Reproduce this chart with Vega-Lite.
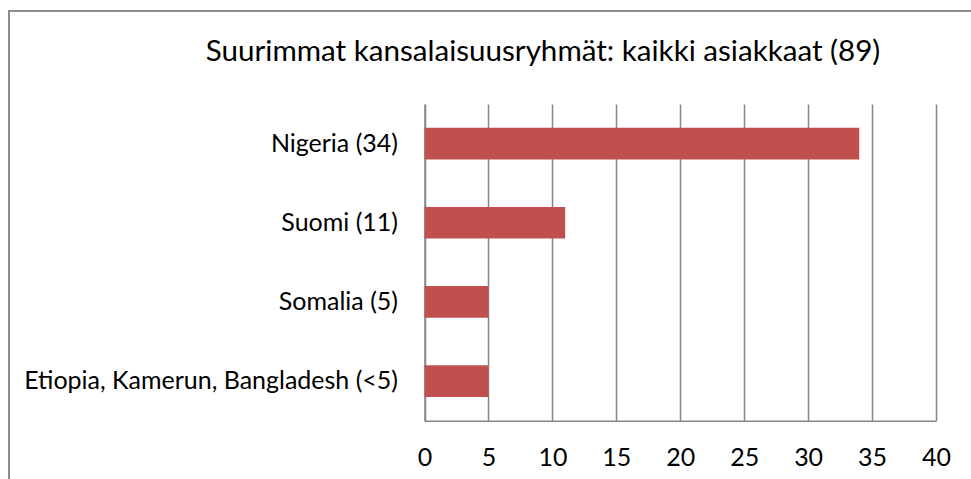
{
  "$schema": "https://vega.github.io/schema/vega-lite/v6.json",
  "autosize": {"type": "none"},
  "padding": {"left": 9, "top": 11, "right": 0, "bottom": 0},
  "width": 980,
  "height": 502.7,
  "background": "white",
  "config": {
    "view": {"stroke": "#8c8c8c", "strokeWidth": 2},
    "font": "Lato"
  },
  "title": {
    "text": "Suurimmat kansalaisuusryhmät: kaikki asiakkaat (89)",
    "anchor": "middle",
    "frame": "group",
    "orient": "top",
    "offset": 0,
    "dx": 44,
    "dy": 80,
    "baseline": "alphabetic",
    "font": "Lato",
    "fontSize": 29.6,
    "fontWeight": "normal",
    "color": "#000000"
  },
  "data": {
    "values": [
      {"label": "Nigeria (34)", "count": 34},
      {"label": "Suomi (11)", "count": 11},
      {"label": "Somalia (5)", "count": 5},
      {"label": "Etiopia, Kamerun, Bangladesh (<5)", "count": 5}
    ]
  },
  "mark": {"type": "bar", "color": "#C0504D"},
  "encoding": {
    "y": {
      "field": "label",
      "type": "nominal",
      "sort": null,
      "scale": {"range": [93, 409.7], "paddingInner": 0.6, "paddingOuter": 0.3},
      "axis": {
        "title": null,
        "orient": "left",
        "offset": -415.5,
        "ticks": false,
        "grid": false,
        "domainColor": "#868686",
        "domainWidth": 1.5,
        "labelPadding": 27,
        "labelFont": "Lato",
        "labelFontSize": 25,
        "labelColor": "#000000",
        "labelLimit": 500
      }
    },
    "x": {
      "field": "count",
      "type": "quantitative",
      "scale": {"domain": [0, 40], "range": [415.5, 927], "nice": false, "zero": true},
      "axis": {
        "title": null,
        "orient": "bottom",
        "offset": -93,
        "values": [0, 5, 10, 15, 20, 25, 30, 35, 40],
        "ticks": false,
        "grid": true,
        "gridColor": "#868686",
        "gridWidth": 1.5,
        "domainColor": "#868686",
        "domainWidth": 1.5,
        "labelPadding": 25,
        "labelFont": "Lato",
        "labelFontSize": 25,
        "labelColor": "#000000",
        "labelFlush": false
      }
    }
  }
}
